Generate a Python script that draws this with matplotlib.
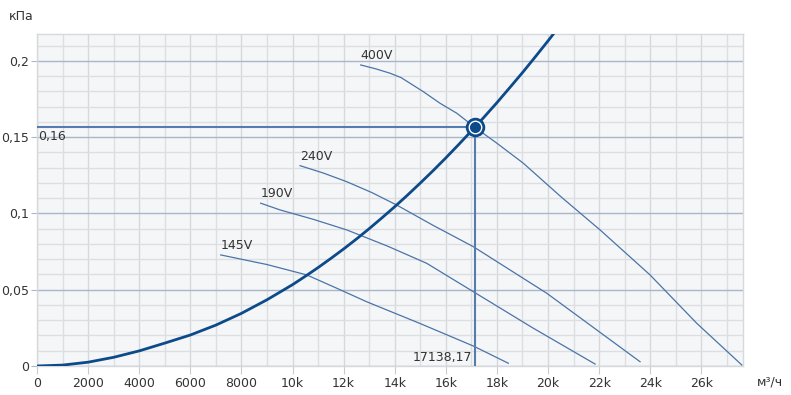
import matplotlib.pyplot as plt
from matplotlib.ticker import MultipleLocator, FuncFormatter

# system curve (m3/h, kPa)
sys_x = [0, 1000, 2000, 3000, 4000, 5000, 6000, 7000, 8000, 9000, 10000, 10500, 11000,
         11500, 12000, 12500, 13000, 13500, 14000, 14500, 15000, 15500, 16000, 16500,
         17138.17, 17500, 18000, 18500, 19000, 19500, 20000, 20200]
sys_y = [0, 0.0006, 0.0025, 0.0057, 0.0099, 0.0150, 0.0203, 0.0268, 0.0345, 0.0434,
         0.0533, 0.0588, 0.0645, 0.0705, 0.0767, 0.0832, 0.0900, 0.0971, 0.1044, 0.1120,
         0.1199, 0.1280, 0.1364, 0.1451, 0.1565, 0.1632, 0.1726, 0.1824, 0.1923, 0.2026,
         0.2131, 0.2174]

# fan curves
v400_x = [12670, 13250, 13816, 14250, 14599, 15119, 15773, 16427, 17131, 18000, 19033,
          20500, 22035, 23992, 25820, 27581]
v400_y = [0.1973, 0.1948, 0.1919, 0.1890, 0.1853, 0.1798, 0.1722, 0.1657, 0.1565,
          0.1460, 0.1329, 0.1110, 0.0892, 0.0597, 0.0280, 0.0007]
v240_x = [10294, 11200, 12121, 13100, 14078, 15500, 17076, 19949, 23601]
v240_y = [0.1313, 0.1265, 0.1208, 0.1137, 0.1055, 0.0922, 0.0782, 0.0477, 0.0028]
v190_x = [8755, 9511, 10800, 12121, 13700, 15252, 17076, 19400, 21840]
v190_y = [0.1067, 0.1023, 0.0962, 0.0892, 0.0787, 0.0673, 0.0487, 0.0250, 0.0013]
v145_x = [7190, 9000, 10556, 11700, 12904, 15000, 17076, 18446]
v145_y = [0.0728, 0.0665, 0.0597, 0.0512, 0.0421, 0.0278, 0.0131, 0.0018]

fans = [("400V", v400_x, v400_y), ("240V", v240_x, v240_y),
        ("190V", v190_x, v190_y), ("145V", v145_x, v145_y)]

op_x = 17138.17
op_y = 0.1565

dark = "#0d4a8a"
thin = "#4a74a8"
txt = "#333333"

fig = plt.figure(figsize=(7.91, 3.95), dpi=100)
ax = fig.add_axes([37/791, 29/395, 706/791, 331.7/395])
ax.set_facecolor("#f5f6f8")
ax.set_xlim(0, 27630)
ax.set_ylim(0, 0.2174)

ax.xaxis.set_major_locator(MultipleLocator(2000))
ax.xaxis.set_minor_locator(MultipleLocator(1000))
ax.yaxis.set_major_locator(MultipleLocator(0.05))
ax.yaxis.set_minor_locator(MultipleLocator(0.01))
ax.grid(which="major", axis="x", color="#d6d8dc", lw=1)
ax.grid(which="minor", axis="x", color="#dcdee2", lw=1)
ax.grid(which="major", axis="y", color="#a8b8ca", lw=1)
ax.grid(which="minor", axis="y", color="#dcdee2", lw=1)
ax.set_axisbelow(True)

def xfmt(v, p):
    v = int(round(v))
    return str(v) if v < 10000 else "%dk" % (v // 1000)

def yfmt(v, p):
    if abs(v) < 1e-9:
        return "0"
    return ("%g" % round(v, 2)).replace(".", ",")

ax.xaxis.set_major_formatter(FuncFormatter(xfmt))
ax.yaxis.set_major_formatter(FuncFormatter(yfmt))
ax.tick_params(axis="x", which="major", length=6, color="#c8ccd2", labelsize=9, labelcolor=txt, pad=2)
ax.tick_params(axis="y", which="major", length=4, color="#a8b8ca", labelsize=9, labelcolor=txt, pad=2)
ax.tick_params(which="minor", length=0)
for s in ax.spines.values():
    s.set_color("#d6d8dc")
    s.set_linewidth(1)

for name, xs, ys in fans:
    ax.plot(xs, ys, color=thin, lw=0.9, zorder=3)
    ax.text(xs[0], ys[0] + 0.002, name, fontsize=9, color=txt, ha="left", va="bottom", zorder=5)

ax.plot(sys_x, sys_y, color=dark, lw=2, zorder=4, clip_on=True)

ax.plot([0, op_x], [op_y, op_y], color="#557cae", lw=1.5, zorder=3)
ax.plot([op_x, op_x], [0, op_y], color="#557cae", lw=1.5, zorder=3)
ax.plot([op_x], [op_y], marker="o", ms=13, mfc=dark, mec=dark, zorder=6)
ax.plot([op_x], [op_y], marker="o", ms=9, mfc=dark, mec="white", mew=1, zorder=7)

ax.text(40, op_y - 0.002, "0,16", fontsize=9, color=txt, ha="left", va="top", zorder=5)
ax.text(op_x - 100, 0.0012, "17138,17", fontsize=9, color=txt, ha="right", va="bottom", zorder=5)

fig.text(9/791, 1 - 16/395, "кПа", fontsize=9, color=txt, ha="left", va="center")
fig.text(770/791, 1 - 382/395, "м³/ч", fontsize=9, color=txt, ha="center", va="center")

fig.savefig("out.png", dpi=100)
